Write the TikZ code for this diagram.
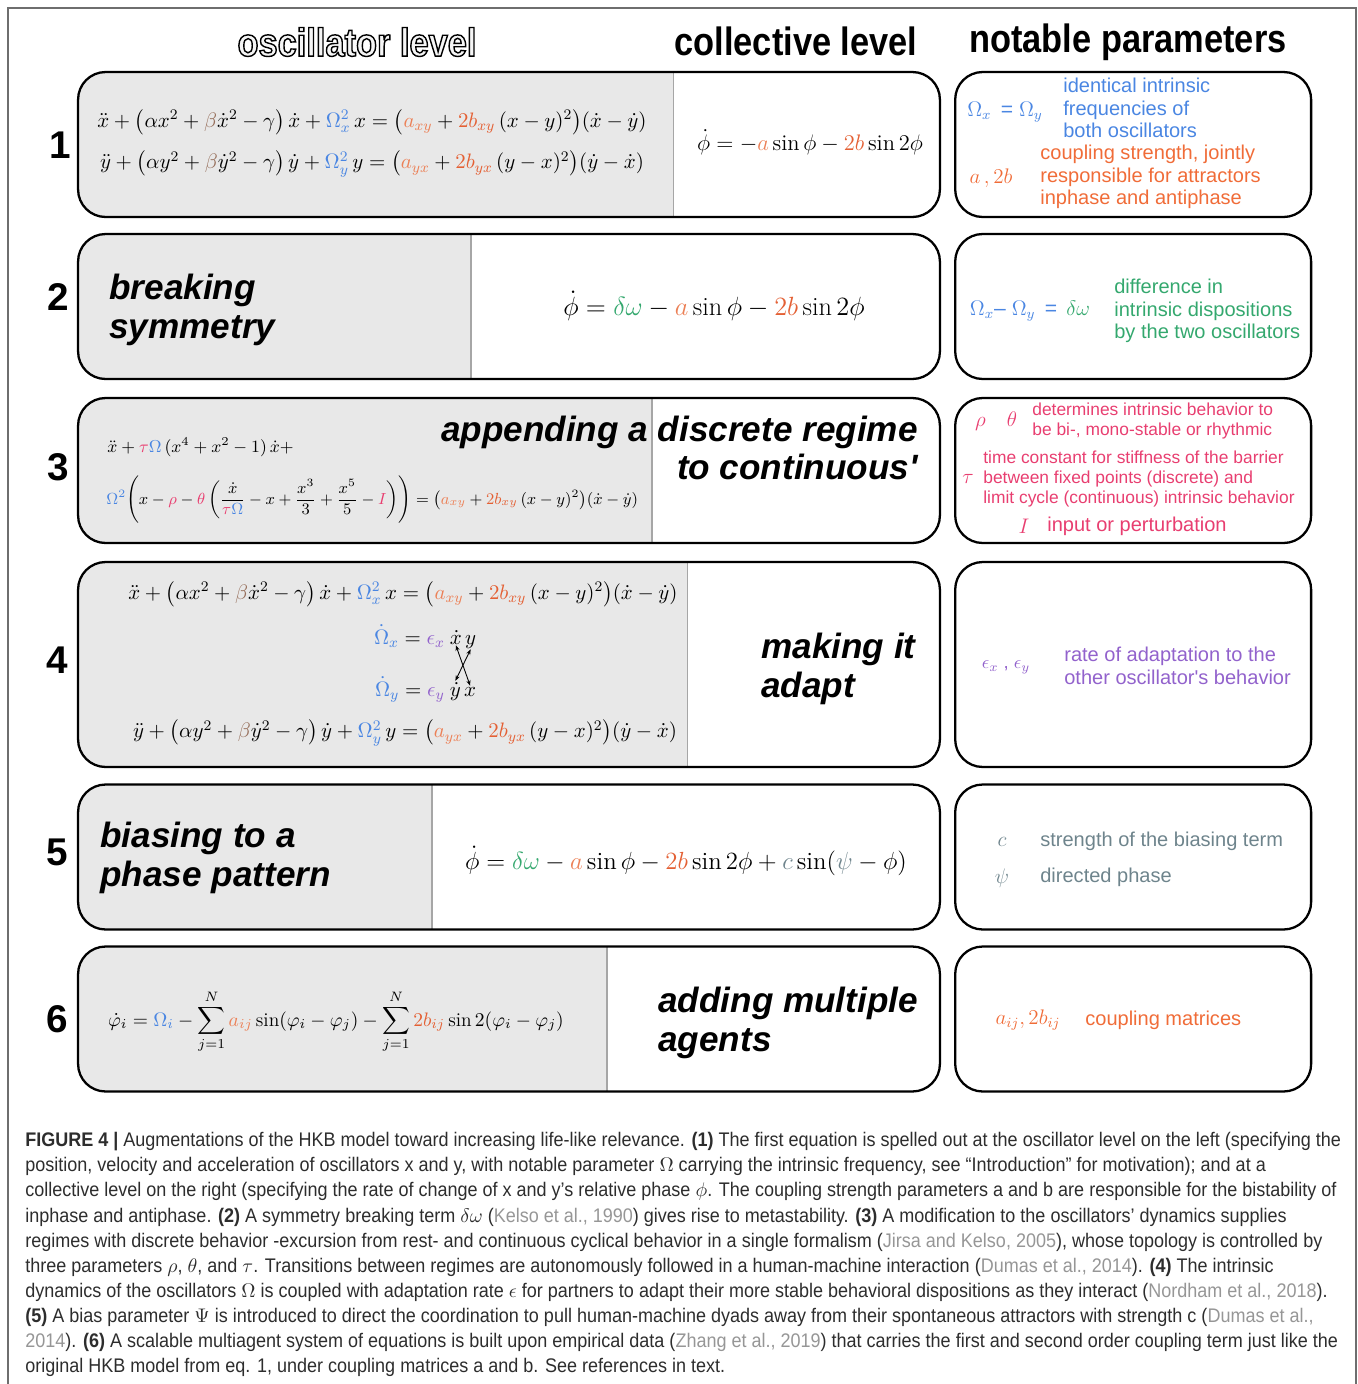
\RequirePackage{fix-cm}
\documentclass[tikz,border=0pt]{standalone}
\usepackage{amsmath}
\usepackage{fontspec}
\setsansfont{Liberation Sans}
\newfontfamily\headfont[FakeStretch=0.87]{Liberation Sans}
\newfontfamily\capfont[FakeStretch=0.915]{Liberation Sans}
\usepackage{xcolor}
\usepackage{tikz}
\usetikzlibrary{arrows.meta, positioning}
\definecolor{omegaBlue}{RGB}{74,134,226}
\definecolor{aOrange}{RGB}{236,128,86}
\definecolor{bOrange}{RGB}{228,96,52}
\definecolor{textOrange}{RGB}{240,108,56}
\definecolor{deltaGreen}{RGB}{52,168,110}
\definecolor{paramPink}{RGB}{232,62,112}
\definecolor{epsPurple}{RGB}{146,98,204}
\definecolor{biasGray}{RGB}{110,132,140}
\definecolor{betaBrown}{RGB}{150,110,90}
\definecolor{boxGray}{RGB}{232,232,232}
\definecolor{citeGray}{RGB}{150,150,150}
\definecolor{capText}{RGB}{45,45,45}
\definecolor{frameGray}{RGB}{110,110,110}
\newcommand{\cOm}[1]{\textcolor{omegaBlue}{#1}}
\newcommand{\cA}[1]{\textcolor{aOrange}{#1}}
\newcommand{\cB}[1]{\textcolor{bOrange}{#1}}
\newcommand{\cP}[1]{\textcolor{paramPink}{#1}}
\newcommand{\citegray}[1]{\textcolor{citeGray}{#1}}
\newcommand{\outlined}[1]{\special{pdf:literal direct 2 Tr 0 0 0 RG 0.8 w}#1\special{pdf:literal direct 0 Tr}}

\begin{document}
\begin{tikzpicture}[
    x=0.02cm, y=-0.02cm,
    rowbox/.style={draw, line width=1.3pt, rounded corners=0.55cm, minimum width=17.24cm, minimum height=2.9cm, inner sep=0pt, fill=white,
        path picture={\fill[boxGray, sharp corners] (path picture bounding box.south west) rectangle ([xshift=#1]path picture bounding box.north west);
        \draw[gray!70, line width=0.6pt, sharp corners] ([xshift=#1]path picture bounding box.south west) -- ([xshift=#1]path picture bounding box.north west);}},
    parbox/.style={draw, line width=1.3pt, rounded corners=0.55cm, minimum width=7.12cm, minimum height=2.9cm, inner sep=0pt},
    rownum/.style={font=\sffamily\bfseries\fontsize{22}{24}\selectfont},
    header/.style={font=\headfont\bfseries\fontsize{22.5}{24}\selectfont},
    stage/.style={font=\sffamily\bfseries\itshape\fontsize{20}{22}\selectfont, align=left, anchor=west, inner sep=0pt},
    eqn/.style={font=\fontsize{11.9}{14}\selectfont, inner sep=0pt},
    term/.style={font=\fontsize{11.9}{14}\selectfont, inner sep=0.5pt},
    pmath/.style={font=\sffamily\fontsize{12}{14}\selectfont, inner sep=0pt},
    ptext/.style={font=\sffamily\fontsize{11.4}{12.9}\selectfont, align=left, anchor=west, inner sep=0pt},
    psmall/.style={font=\sffamily\fontsize{9.9}{11.2}\selectfont, align=left, anchor=west, inner sep=0pt},
    xarrow/.style={{Stealth[length=1.1mm]}-{Stealth[length=1.1mm]}, line width=0.5pt},
    captext/.style={font=\capfont\fontsize{11.2}{14.3}\selectfont, text=capText, align=left, anchor=north west, inner sep=0pt}
]
    \useasboundingbox (0,0) rectangle (1358,1384);
    \draw[frameGray, line width=0.9pt] (8,1384) -- (8,8) -- (1356,8) -- (1356,1384);

    % Column headers
    \node[header, text=gray!8] (hosc) at (357,42) {\outlined{oscillator level}};
    \node[header] (hcol) at (796,41) {collective level};
    \node[header] (hpar) at (1128,42) {notable parameters};

    % Row 1: HKB model
    \node[rowbox=11.92cm] (row1) at (509,144.5) {};
    \node[parbox, right=0.26cm of row1] (par1) {};
    \node[rownum] (n1) at (60,145) {1};
    \node[eqn] (osc1x) at (372,122) {$\ddot x + \bigl(\alpha x^2 + \textcolor{betaBrown}{\beta}\dot x^2 - \gamma\bigr)\,\dot x + \cOm{\Omega_x^2}\,x = \bigl(\cA{a_{xy}} + \cB{2b_{xy}}\,(x-y)^2\bigr)(\dot x - \dot y)$};
    \node[eqn] (osc1y) at (372,164) {$\ddot y + \bigl(\alpha y^2 + \textcolor{betaBrown}{\beta}\dot y^2 - \gamma\bigr)\,\dot y + \cOm{\Omega_y^2}\,y = \bigl(\cA{a_{yx}} + \cB{2b_{yx}}\,(y-x)^2\bigr)(\dot y - \dot x)$};
    \node[eqn, font=\fontsize{12.8}{14}\selectfont] (col1) at (810,142) {$\dot\phi = -\cA{a}\sin\phi - \cB{2b}\sin 2\phi$};
    \node[pmath, text=omegaBlue] (om1) at (1005,112) {$\Omega_x$ \,= $\Omega_y$};
    \node[ptext, text=omegaBlue] (d1a) at (1063,108) {identical intrinsic\\frequencies of\\both oscillators};
    \node[pmath, text=textOrange] (ab1) at (991,178) {$a\,,2b$};
    \node[ptext, text=textOrange] (d1b) at (1040,177) {coupling strength, jointly\\responsible for attractors\\inphase and antiphase};

    % Row 2: symmetry breaking
    \node[rowbox=7.86cm] (row2) at (509,306.5) {};
    \node[parbox, right=0.26cm of row2] (par2) {};
    \node[rownum] (n2) at (58,297) {2};
    \node[stage] (lab2) at (109,310) {breaking\\symmetry};
    \node[eqn, font=\fontsize{15}{18}\selectfont] (col2) at (714,306) {$\dot\phi = \textcolor{deltaGreen}{\delta\omega} - \cA{a}\sin\phi - \cB{2b}\sin 2\phi$};
    \node[pmath] (om2) at (1030,311) {\textcolor{omegaBlue}{$\Omega_x$– $\Omega_y$ \,=\,} \textcolor{deltaGreen}{$\delta\omega$}};
    \node[ptext, text=deltaGreen] (d2) at (1114,311) {difference in\\intrinsic dispositions\\by the two oscillators};

    % Row 3: discrete regime
    \node[rowbox=11.48cm] (row3) at (509,470.5) {};
    \node[parbox, right=0.26cm of row3] (par3) {};
    \node[rownum] (n3) at (58,467) {3};
    \node[eqn, anchor=west, font=\fontsize{9.8}{12}\selectfont] (osc3a) at (107,447) {$\ddot x + \cP{\tau}\cOm{\Omega}\,(x^4 + x^2 - 1)\,\dot x +$};
    \node[eqn, anchor=west, font=\fontsize{9.15}{12}\selectfont] (osc3b) at (106,500) {$\cOm{\Omega^2}\Biggl(x - \cP{\rho} - \cP{\theta}\left(\dfrac{\dot x}{\cP{\tau}\cOm{\Omega}} - x + \dfrac{x^3}{3} + \dfrac{x^5}{5} - \cP{I}\right)\Biggr) = \bigl(\cA{a_{xy}} + \cB{2b_{xy}}\,(x-y)^2\bigr)(\dot x - \dot y)$};
    \node[stage, align=right, anchor=east] (lab3) at (918,448) {appending a discrete regime\\to continuous\textquotesingle};
    \node[pmath, text=paramPink] (rt3) at (996,421) {$\rho\quad\theta$};
    \node[psmall, text=paramPink] (d3a) at (1032,421) {determines intrinsic behavior to\\be bi-, mono-stable or rhythmic};
    \node[pmath, text=paramPink] (tau3) at (968,479) {$\tau$};
    \node[psmall, text=paramPink] (d3b) at (983,479) {time constant for stiffness of the barrier\\between fixed points (discrete) and\\limit cycle (continuous) intrinsic behavior};
    \node[pmath, text=paramPink] (i3) at (1024,526) {$I$};
    \node[ptext, text=paramPink] (d3c) at (1047,526) {input or perturbation};

    % Row 4: adaptation
    \node[rowbox=12.2cm, minimum height=4.1cm] (row4) at (509,664.5) {};
    \node[parbox, minimum height=4.1cm, right=0.26cm of row4] (par4) {};
    \node[rownum] (n4) at (57,660) {4};
    \node[eqn] (osc4x) at (403,594) {$\ddot x + \bigl(\alpha x^2 + \textcolor{betaBrown}{\beta}\dot x^2 - \gamma\bigr)\,\dot x + \cOm{\Omega_x^2}\,x = \bigl(\cA{a_{xy}} + \cB{2b_{xy}}\,(x-y)^2\bigr)(\dot x - \dot y)$};
    \node[term, anchor=base east] (om4x) at (446,644) {$\cOm{\dot\Omega_x} = \textcolor{epsPurple}{\epsilon_x}$};
    \node[term, base right=1.5pt of om4x] (xd4) {$\dot x$};
    \node[term, base right=0.5pt of xd4] (yt4) {$y$};
    \node[term, anchor=base east] (om4y) at (446,696) {$\cOm{\dot\Omega_y} = \textcolor{epsPurple}{\epsilon_y}$};
    \node[term, base right=1.5pt of om4y] (yd4) {$\dot y$};
    \node[term, base right=0.5pt of yd4] (xt4) {$x$};
    \draw[xarrow] (xd4.south) -- (xt4.north);
    \draw[xarrow] (yt4.south) -- (yd4.north);
    \node[eqn] (osc4y) at (405,733) {$\ddot y + \bigl(\alpha y^2 + \textcolor{betaBrown}{\beta}\dot y^2 - \gamma\bigr)\,\dot y + \cOm{\Omega_y^2}\,y = \bigl(\cA{a_{yx}} + \cB{2b_{yx}}\,(y-x)^2\bigr)(\dot y - \dot x)$};
    \node[stage] (lab4) at (761,669) {making it\\adapt};
    \node[pmath, text=epsPurple, font=\sffamily\fontsize{10.5}{12}\selectfont] (eps4) at (1006,667) {$\epsilon_x$ , $\epsilon_y$};
    \node[ptext, text=epsPurple] (d4) at (1064,666) {rate of adaptation to the\\other oscillator\textquotesingle s behavior};

    % Row 5: bias
    \node[rowbox=7.08cm] (row5) at (509,857) {};
    \node[parbox, right=0.26cm of row5] (par5) {};
    \node[rownum] (n5) at (57,852) {5};
    \node[stage] (lab5) at (100,858) {biasing to a\\phase pattern};
    \node[eqn, font=\fontsize{14.1}{17}\selectfont] (col5) at (686,861) {$\dot\phi = \textcolor{deltaGreen}{\delta\omega} - \cA{a}\sin\phi - \cB{2b}\sin 2\phi + \textcolor{biasGray}{c}\sin(\textcolor{biasGray}{\psi} - \phi)$};
    \node[pmath, text=biasGray] (c5) at (1002,842) {$c$};
    \node[ptext, text=biasGray] (d5a) at (1040,841) {strength of the biasing term};
    \node[pmath, text=biasGray] (psi5) at (1002,878) {$\psi$};
    \node[ptext, text=biasGray] (d5b) at (1040,877) {directed phase};

    % Row 6: many agents
    \node[rowbox=10.58cm] (row6) at (509,1019) {};
    \node[parbox, right=0.26cm of row6] (par6) {};
    \node[rownum] (n6) at (57,1019) {6};
    \node[eqn, font=\fontsize{11.1}{14}\selectfont] (osc6) at (336,1022) {$\displaystyle \dot\varphi_i = \cOm{\Omega_i} - \sum_{j=1}^{N} \cA{a_{ij}}\sin(\varphi_i - \varphi_j) - \sum_{j=1}^{N} \cB{2b_{ij}}\sin 2(\varphi_i - \varphi_j)$};
    \node[stage] (lab6) at (658,1023) {adding multiple\\agents};
    \node[pmath, text=textOrange] (ab6) at (1028,1020) {$a_{ij}, 2b_{ij}$};
    \node[ptext, text=textOrange] (d6) at (1085,1020) {coupling matrices};

    % Caption
    \node[captext] (cap) at (25,1132) {\textbf{FIGURE 4 |} Augmentations of the HKB model toward increasing life-like relevance. \textbf{(1)} The first equation is spelled out at the oscillator level on the left (specifying the\\
    position, velocity and acceleration of oscillators x and y, with notable parameter $\Omega$ carrying the intrinsic frequency, see “Introduction” for motivation); and at a\\
    collective level on the right (specifying the rate of change of x and y’s relative phase $\phi$. The coupling strength parameters a and b are responsible for the bistability of\\
    inphase and antiphase. \textbf{(2)} A symmetry breaking term $\delta\omega$ (\citegray{Kelso et al., 1990}) gives rise to metastability. \textbf{(3)} A modification to the oscillators’ dynamics supplies\\
    regimes with discrete behavior -excursion from rest- and continuous cyclical behavior in a single formalism (\citegray{Jirsa and Kelso, 2005}), whose topology is controlled by\\
    three parameters $\rho$, $\theta$, and $\tau$. Transitions between regimes are autonomously followed in a human-machine interaction (\citegray{Dumas et al., 2014}). \textbf{(4)} The intrinsic\\
    dynamics of the oscillators $\Omega$ is coupled with adaptation rate $\epsilon$ for partners to adapt their more stable behavioral dispositions as they interact (\citegray{Nordham et al., 2018}).\\
    \textbf{(5)} A bias parameter $\Psi$ is introduced to direct the coordination to pull human-machine dyads away from their spontaneous attractors with strength c (\citegray{Dumas et al.,}\\
    \citegray{2014}). \textbf{(6)} A scalable multiagent system of equations is built upon empirical data (\citegray{Zhang et al., 2019}) that carries the first and second order coupling term just like the\\
    original HKB model from eq. 1, under coupling matrices a and b. See references in text.};
\end{tikzpicture}
\end{document}
